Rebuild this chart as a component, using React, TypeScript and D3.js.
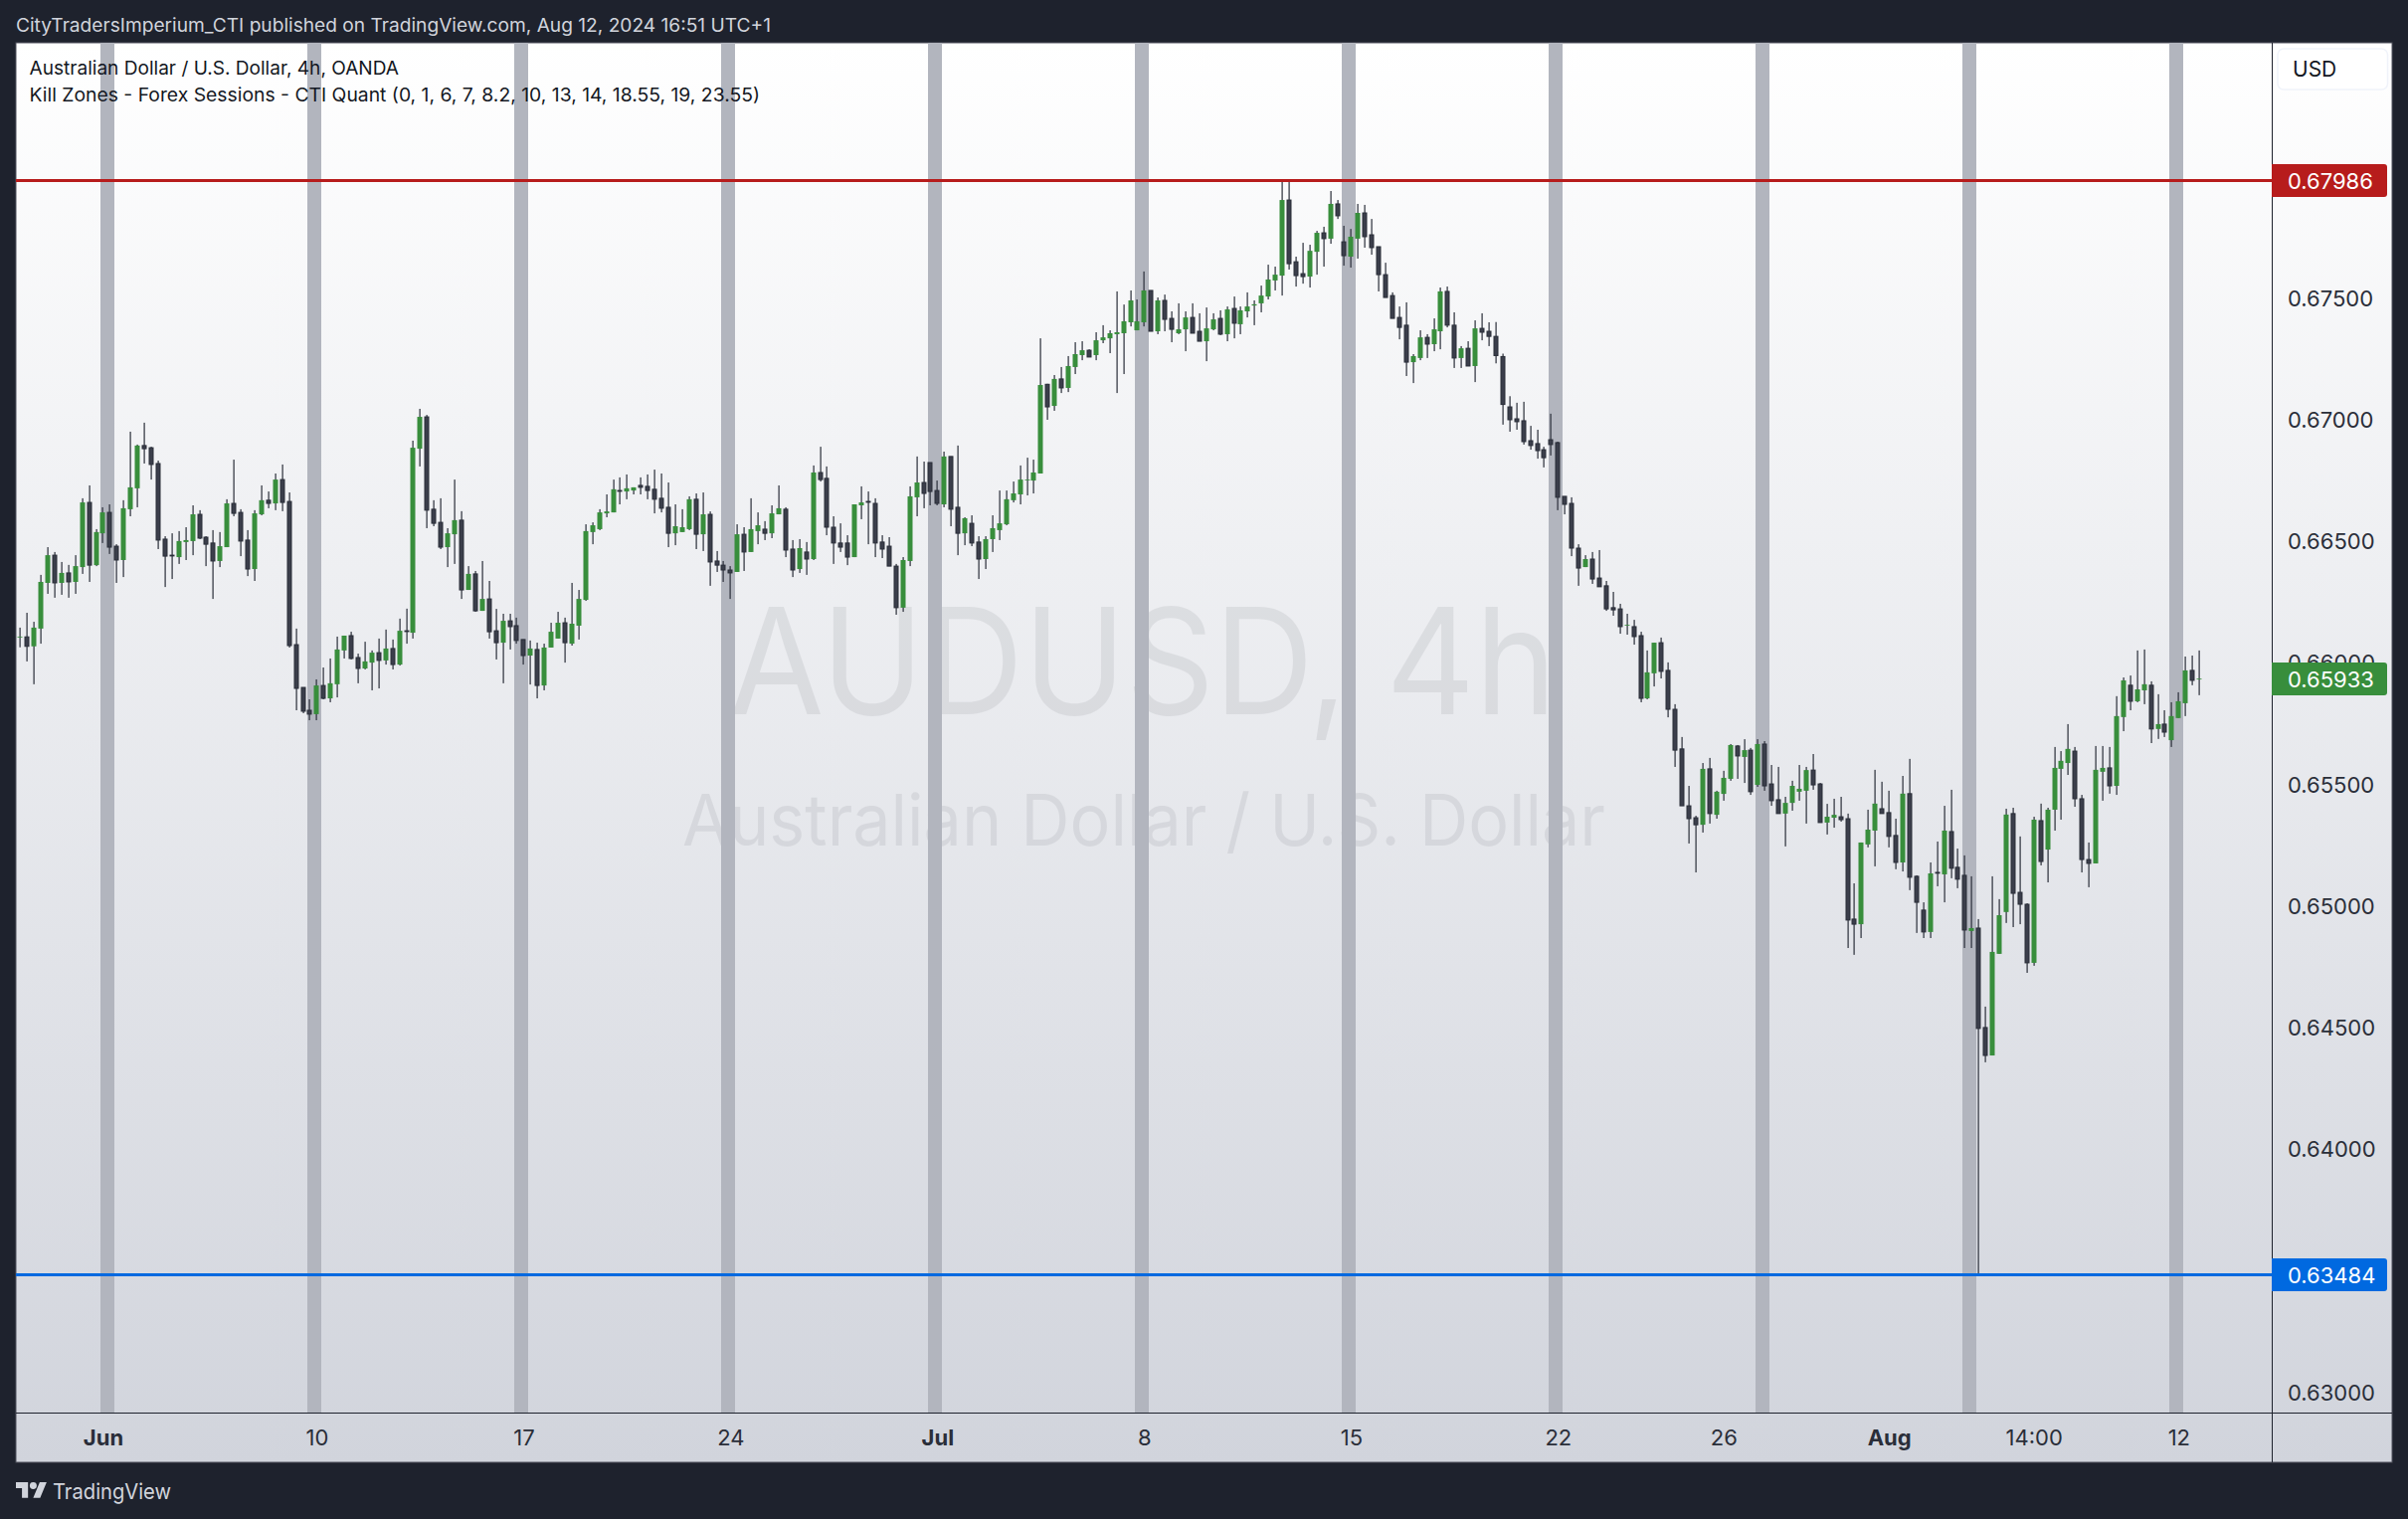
import { useEffect, useRef } from "react"
import * as d3 from "d3"

// bars are [open, high, low, close] in 1e-5 of a dollar
const barsLateMay = [
    [66104, 66143, 66062, 66106], [66105, 66204, 66004, 66066], [66066, 66167, 65910, 66143], [66139, 66360, 66077, 66331],
    [66327, 66474, 66282, 66441], [66441, 66454, 66266, 66327], [66327, 66413, 66278, 66368], [66368, 66401, 66266, 66331],
    [66331, 66441, 66282, 66396], [66392, 66675, 66364, 66658], [66658, 66728, 66331, 66400], [66400, 66548, 66396, 66536],
]
const barsWeekJun3 = [
    [66531, 66638, 66491, 66617], [66617, 66650, 66446, 66474], [66478, 66486, 66327, 66421], [66421, 66667, 66351, 66634],
    [66630, 66949, 66601, 66720], [66716, 66896, 66638, 66892], [66892, 66986, 66818, 66879], [66883, 66887, 66752, 66814],
    [66818, 66830, 66466, 66503], [66507, 66519, 66310, 66437], [66441, 66531, 66343, 66439], [66433, 66540, 66405, 66499],
    [66495, 66556, 66421, 66503], [66499, 66646, 66441, 66609], [66609, 66626, 66507, 66511], [66515, 66519, 66396, 66486],
    [66491, 66544, 66261, 66417], [66417, 66536, 66392, 66478], [66474, 66671, 66474, 66654], [66654, 66834, 66601, 66613],
    [66617, 66630, 66437, 66499], [66503, 66544, 66355, 66384], [66384, 66626, 66335, 66613], [66609, 66728, 66605, 66667],
    [66667, 66703, 66634, 66654], [66654, 66777, 66626, 66752], [66752, 66814, 66622, 66658], [66662, 66699, 66061, 66069],
    [66073, 66139, 65803, 65893], [65897, 65897, 65791, 65799],
]
const barsWeekJun10 = [
    [65803, 65848, 65762, 65787], [65787, 65930, 65762, 65905], [65905, 65979, 65848, 65852], [65852, 66016, 65836, 65914],
    [65910, 66106, 65856, 66053], [66049, 66110, 66016, 66110], [66110, 66126, 66012, 66016], [66020, 66036, 65914, 65975],
    [65975, 66085, 65971, 66004], [65999, 66049, 65885, 66040], [66040, 66098, 65893, 66008], [66008, 66135, 65991, 66057],
    [66057, 66094, 65971, 65991], [65991, 66180, 65987, 66130], [66130, 66221, 66077, 66128], [66122, 66912, 66098, 66883],
    [66879, 67043, 66806, 67010], [67010, 67018, 66552, 66626], [66630, 66667, 66560, 66572], [66576, 66675, 66466, 66474],
    [66474, 66552, 66392, 66531], [66527, 66752, 66405, 66585], [66585, 66622, 66261, 66298], [66298, 66396, 66298, 66364],
    [66364, 66376, 66208, 66212], [66212, 66417, 66212, 66261], [66261, 66335, 66098, 66126], [66130, 66220, 66012, 66081],
    [66081, 66200, 65914, 66171], [66171, 66200, 66053, 66147],
]
const barsWeekJun17 = [
    [66151, 66184, 66077, 66090], [66094, 66094, 65991, 66028], [66028, 66090, 65909, 66057], [66053, 66081, 65852, 65905],
    [65905, 66077, 65885, 66061], [66061, 66163, 66061, 66126], [66098, 66208, 66098, 66163], [66163, 66184, 65999, 66081],
    [66077, 66327, 66069, 66159], [66151, 66298, 66094, 66261], [66257, 66568, 66253, 66540], [66536, 66576, 66486, 66564],
    [66548, 66630, 66544, 66617], [66613, 66691, 66597, 66621], [66617, 66752, 66617, 66712], [66707, 66761, 66650, 66705],
    [66703, 66773, 66671, 66716], [66707, 66720, 66691, 66720], [66728, 66761, 66691, 66720], [66724, 66773, 66671, 66707],
    [66712, 66793, 66613, 66671], [66675, 66777, 66617, 66634], [66638, 66740, 66474, 66531], [66531, 66650, 66482, 66560],
    [66536, 66630, 66536, 66556], [66548, 66683, 66544, 66671], [66671, 66695, 66466, 66527], [66527, 66699, 66458, 66609],
    [66609, 66621, 66315, 66413], [66417, 66458, 66372, 66400],
]
const barsWeekJun24 = [
    [66400, 66417, 66331, 66380], [66380, 66396, 66261, 66368], [66372, 66568, 66372, 66527], [66527, 66556, 66376, 66454],
    [66454, 66675, 66454, 66548], [66540, 66617, 66486, 66564], [66548, 66581, 66503, 66531], [66531, 66646, 66511, 66613],
    [66609, 66728, 66609, 66634], [66630, 66638, 66433, 66462], [66466, 66503, 66351, 66380], [66384, 66507, 66368, 66470],
    [66454, 66495, 66360, 66425], [66425, 66810, 66421, 66781], [66781, 66887, 66744, 66752], [66757, 66806, 66523, 66556],
    [66556, 66601, 66405, 66491], [66491, 66572, 66454, 66474], [66491, 66523, 66400, 66433], [66433, 66650, 66433, 66650],
    [66646, 66724, 66589, 66658], [66662, 66703, 66486, 66660], [66654, 66675, 66433, 66491], [66495, 66523, 66429, 66466],
    [66478, 66515, 66396, 66396], [66396, 66405, 66196, 66225], [66225, 66433, 66208, 66421], [66417, 66724, 66396, 66683],
    [66679, 66847, 66601, 66740], [66740, 66826, 66634, 66695],
]
const barsWeekJul1 = [
    [66822, 66822, 66646, 66703], [66707, 66748, 66646, 66654], [66650, 66867, 66638, 66847], [66847, 66847, 66560, 66630],
    [66638, 66892, 66441, 66531], [66531, 66597, 66482, 66593], [66572, 66605, 66478, 66491], [66495, 66519, 66343, 66425],
    [66425, 66519, 66384, 66507], [66507, 66605, 66454, 66552], [66544, 66707, 66503, 66572], [66568, 66707, 66564, 66671],
    [66667, 66744, 66658, 66695], [66691, 66810, 66650, 66752], [66750, 66842, 66687, 66752], [66748, 66834, 66695, 66781],
    [66777, 67333, 66777, 67141], [67144, 67146, 66998, 67051], [67055, 67182, 67035, 67166], [67166, 67215, 67108, 67129],
    [67129, 67260, 67112, 67219], [67215, 67317, 67186, 67268], [67264, 67321, 67243, 67284], [67284, 67288, 67256, 67256],
    [67264, 67358, 67243, 67325], [67325, 67387, 67313, 67337], [67333, 67366, 67272, 67354], [67350, 67526, 67108, 67358],
    [67354, 67472, 67186, 67403], [67399, 67530, 67382, 67489],
]
const barsWeekJul8 = [
    [67366, 67493, 67366, 67403], [67399, 67608, 67382, 67530], [67530, 67530, 67362, 67362], [67362, 67501, 67350, 67489],
    [67489, 67513, 67362, 67411], [67415, 67444, 67317, 67370], [67354, 67477, 67350, 67370], [67370, 67444, 67280, 67419],
    [67419, 67477, 67354, 67354], [67362, 67436, 67321, 67321], [67321, 67460, 67239, 67374], [67370, 67436, 67366, 67411],
    [67415, 67448, 67346, 67350], [67350, 67464, 67321, 67452], [67456, 67505, 67333, 67395], [67391, 67464, 67350, 67448],
    [67444, 67522, 67419, 67464], [67468, 67489, 67387, 67473], [67477, 67550, 67440, 67509], [67505, 67636, 67493, 67575],
    [67571, 67628, 67530, 67595], [67591, 67984, 67509, 67902], [67902, 67984, 67616, 67640], [67648, 67669, 67546, 67591],
    [67599, 67726, 67558, 67587], [67587, 67718, 67542, 67693], [67689, 67775, 67595, 67767], [67767, 67792, 67628, 67743],
    [67743, 67939, 67722, 67886], [67886, 67902, 67824, 67837],
]
const barsWeekJul15 = [
    [67730, 67796, 67632, 67673], [67669, 67783, 67624, 67751], [67743, 67886, 67661, 67849], [67849, 67882, 67706, 67751],
    [67759, 67824, 67677, 67706], [67710, 67710, 67526, 67595], [67595, 67644, 67501, 67501], [67509, 67522, 67415, 67415],
    [67419, 67464, 67329, 67378], [67387, 67481, 67178, 67235], [67235, 67268, 67149, 67260], [67252, 67366, 67243, 67337],
    [67337, 67350, 67252, 67309], [67309, 67415, 67280, 67370], [67362, 67542, 67288, 67526], [67526, 67546, 67378, 67387],
    [67387, 67440, 67211, 67252], [67252, 67301, 67211, 67292], [67292, 67321, 67219, 67219], [67219, 67407, 67153, 67374],
    [67374, 67436, 67325, 67358], [67362, 67399, 67301, 67341], [67341, 67400, 67230, 67262], [67258, 67270, 66978, 67061],
    [67051, 67095, 66949, 66998], [67002, 67068, 66957, 66990], [66994, 67072, 66896, 66908], [66912, 66973, 66875, 66892],
    [66900, 66957, 66838, 66871], [66875, 66887, 66802, 66842],
]
const barsWeekJul22 = [
    [66916, 67023, 66851, 66896], [66904, 66908, 66626, 66679], [66683, 66683, 66609, 66650], [66654, 66679, 66437, 66470],
    [66470, 66486, 66315, 66388], [66392, 66441, 66392, 66425], [66425, 66454, 66323, 66343], [66347, 66462, 66311, 66311],
    [66315, 66335, 66212, 66220], [66225, 66290, 66192, 66216], [66220, 66241, 66118, 66147], [66153, 66200, 66114, 66155],
    [66147, 66175, 66073, 66106], [66110, 66126, 65836, 65852], [65852, 66049, 65848, 65959], [65955, 66081, 65901, 66081],
    [66081, 66102, 65934, 65963], [65967, 66000, 65774, 65807], [65807, 65828, 65570, 65639], [65644, 65693, 65410, 65410],
    [65410, 65492, 65255, 65357], [65361, 65369, 65136, 65332], [65332, 65586, 65300, 65562], [65562, 65607, 65337, 65378],
    [65373, 65472, 65357, 65468], [65459, 65554, 65431, 65525], [65521, 65664, 65513, 65660], [65656, 65660, 65521, 65615],
    [65611, 65684, 65504, 65639], [65639, 65648, 65455, 65468],
]
const barsWeekJul29 = [
    [65496, 65684, 65488, 65664], [65664, 65676, 65472, 65492], [65500, 65578, 65410, 65431], [65435, 65570, 65378, 65378],
    [65378, 65447, 65243, 65422], [65422, 65513, 65390, 65492], [65468, 65578, 65431, 65480], [65472, 65570, 65337, 65557],
    [65557, 65623, 65476, 65496], [65500, 65504, 65341, 65341], [65341, 65418, 65292, 65365], [65361, 65439, 65320, 65373],
    [65365, 65447, 65345, 65353], [65357, 65378, 64825, 64940], [64944, 65091, 64797, 64923], [64923, 65259, 64866, 65259],
    [65251, 65394, 65239, 65312], [65308, 65558, 65161, 65419], [65398, 65509, 65378, 65378], [65382, 65472, 65239, 65284],
    [65288, 65357, 65149, 65177], [65177, 65533, 65140, 65460], [65460, 65603, 65063, 65116], [65120, 65124, 64887, 65013],
    [64981, 65013, 64866, 64891], [64891, 65177, 64866, 65132], [65136, 65263, 65079, 65134], [65128, 65410, 65013, 65308],
    [65304, 65476, 65112, 65153], [65157, 65234, 65071, 65108],
]
const barsWeekAug5 = [
    [65124, 65206, 64825, 64899], [64895, 65120, 64825, 64907], [64907, 64944, 63484, 64494], [64498, 64584, 64355, 64383],
    [64383, 65120, 64383, 64809], [64801, 65026, 64801, 64960], [64973, 65398, 64928, 65374], [65378, 65402, 64911, 65050],
    [65054, 65284, 64923, 65005], [65005, 65009, 64723, 64764], [64764, 65365, 64752, 65353], [65349, 65419, 65165, 65181],
    [65230, 65402, 65095, 65394], [65394, 65652, 65308, 65566], [65562, 65635, 65353, 65595], [65586, 65746, 65537, 65644],
    [65635, 65652, 65406, 65439], [65439, 65455, 65136, 65189], [65189, 65259, 65075, 65173], [65173, 65656, 65173, 65558],
    [65550, 65656, 65431, 65566], [65566, 65652, 65460, 65492], [65492, 65861, 65455, 65779], [65775, 65938, 65717, 65926],
    [65906, 65946, 65803, 65840], [65840, 66049, 65836, 65889], [65885, 66053, 65828, 65910], [65906, 65922, 65668, 65726],
    [65726, 65869, 65685, 65746], [65746, 65803, 65693, 65713],
]
const barsAug12 = [
    [65680, 65836, 65652, 65779], [65771, 65877, 65771, 65840], [65832, 66024, 65779, 65967], [65967, 66028, 65906, 65926],
    [65932, 66049, 65865, 65933],
]

const priceTicks = [0.63, 0.635, 0.64, 0.645, 0.65, 0.655, 0.66, 0.665, 0.67, 0.675]
const timeTickBars = [12, 43, 73, 103, 133, 163, 193, 223, 247, 271, 292, 313]
const timeTickLabels = ["Jun", "10", "17", "24", "Jul", "8", "15", "22", "26", "Aug", "14:00", "12"]
const boldTimeLabels = ["Jun", "Jul", "Aug"]
const killZoneBars = [12, 42, 72, 102, 132, 162, 192, 222, 252, 282, 312]
const highLine = 0.67986
const lowLine = 0.63484
const lastPrice = 0.65933

const FONT = "Inter, 'Noto Sans', sans-serif"

export default function App() {
    const svgRef = useRef(null)

    useEffect(() => {
        const bars = [
            ...barsLateMay, ...barsWeekJun3, ...barsWeekJun10, ...barsWeekJun17, ...barsWeekJun24, ...barsWeekJul1,
            ...barsWeekJul8, ...barsWeekJul15, ...barsWeekJul22, ...barsWeekJul29, ...barsWeekAug5, ...barsAug12,
        ].map(([o, h, l, c]) => ({ o: o / 1e5, h: h / 1e5, l: l / 1e5, c: c / 1e5 }))

        const frame = { left: 16, right: 2405, top: 43, bottom: 1470 }
        const axisX = 2284
        const axisY = 1420

        const x = d3.scaleLinear().domain([0, bars.length - 1]).range([20.3, 20.3 + 6.933 * (bars.length - 1)])
        const y = d3.scaleLinear().domain([0.63, 0.675]).range([1399, 299.3])

        const svg = d3.select(svgRef.current)
        svg.selectAll("*").remove()

        const grad = svg.append("defs").append("linearGradient").attr("id", "bg").attr("x1", 0).attr("x2", 0).attr("y1", 0).attr("y2", 1)
        grad.append("stop").attr("offset", 0).attr("stop-color", "#ffffff")
        grad.append("stop").attr("offset", 1).attr("stop-color", "#d1d4dc")

        svg.append("rect").attr("width", 2421).attr("height", 1527).attr("fill", "#1e222d")
        svg
            .append("rect")
            .attr("x", frame.left)
            .attr("y", frame.top)
            .attr("width", frame.right - frame.left)
            .attr("height", frame.bottom - frame.top)
            .attr("fill", "url(#bg)")
            .attr("stroke", "#50535e")
            .attr("stroke-width", 1)

        const text = (str, tx, ty, size, color, width = null, weight = 400) => {
            const t = svg
                .append("text")
                .attr("x", tx)
                .attr("y", ty)
                .attr("font-family", FONT)
                .attr("font-size", size)
                .attr("font-weight", weight)
                .attr("fill", color)
                .text(str)
            if (width) t.attr("textLength", width).attr("lengthAdjust", "spacingAndGlyphs")
            return t
        }

        text("CityTradersImperium_CTI published on TradingView.com, Aug 12, 2024 16:51 UTC+1", 16, 32, 18.5, "#d1d4dc", 759)

        // watermark sits under the session bands
        text("AUDUSD, 4h", 733, 718, 148, "#131722", 832).attr("opacity", 0.07)
        text("Australian Dollar / U.S. Dollar", 686, 850, 72, "#131722", 928).attr("opacity", 0.07)

        svg
            .append("g")
            .selectAll("rect")
            .data(killZoneBars)
            .enter()
            .append("rect")
            .attr("x", (d) => Math.round(x(d - 0.5)) + 1)
            .attr("width", 14)
            .attr("y", frame.top)
            .attr("height", axisY - frame.top)
            .attr("fill", "#b2b5be")

        text("Australian Dollar / U.S. Dollar, 4h, OANDA", 29.5, 75, 18.5, "#131722", 371.5)
        text("Kill Zones - Forex Sessions - CTI Quant (0, 1, 6, 7, 8.2, 10, 13, 14, 18.55, 19, 23.55)", 29.5, 102, 18.5, "#131722", 734.5)

        const candles = svg.append("g")
        candles
            .selectAll(".wick")
            .data(bars)
            .enter()
            .append("rect")
            .attr("x", (d, i) => Math.round(x(i)) - 0.5)
            .attr("width", 1.2)
            .attr("y", (d) => y(d.h))
            .attr("height", (d) => y(d.l) - y(d.h))
            .attr("fill", "#2a2e39")
        candles
            .selectAll(".body")
            .data(bars)
            .enter()
            .append("rect")
            .attr("x", (d, i) => Math.round(x(i)) - (d.c >= d.o ? 2.5 : 2))
            .attr("width", (d) => (d.c >= d.o ? 5 : 4))
            .attr("y", (d) => y(Math.max(d.o, d.c)))
            .attr("height", (d) => Math.max(y(Math.min(d.o, d.c)) - y(Math.max(d.o, d.c)), 0.8))
            .attr("fill", (d) => (d.c >= d.o ? "#388e3c" : "#3b3e4b"))
            .attr("stroke", (d) => (d.c >= d.o ? "none" : "#2a2e39"))
            .attr("stroke-width", 1)

        const priceAxis = svg
            .append("g")
            .attr("transform", `translate(${axisX},1)`)
            .call(d3.axisRight(y).tickValues(priceTicks).tickFormat(d3.format(".5f")).tickSize(0).tickPadding(16))
        priceAxis.select(".domain").remove()
        priceAxis.selectAll("text").attr("font-family", FONT).attr("font-size", 22).attr("fill", "#2a2e39")

        const timeAxis = svg
            .append("g")
            .attr("transform", `translate(0,${axisY})`)
            .call(
                d3
                    .axisBottom(x)
                    .tickValues(timeTickBars)
                    .tickFormat((d) => timeTickLabels[timeTickBars.indexOf(d)])
                    .tickSize(0)
                    .tickPadding(17)
            )
        timeAxis.select(".domain").remove()
        timeAxis
            .selectAll("text")
            .attr("font-family", FONT)
            .attr("font-size", 22)
            .attr("fill", "#2a2e39")
            .attr("font-weight", (d) => (boldTimeLabels.includes(timeTickLabels[timeTickBars.indexOf(d)]) ? 700 : 400))

        svg.append("line").attr("x1", axisX + 0.5).attr("x2", axisX + 0.5).attr("y1", frame.top).attr("y2", frame.bottom).attr("stroke", "#1e222d")
        svg.append("line").attr("x1", frame.left).attr("x2", frame.right).attr("y1", axisY + 0.5).attr("y2", axisY + 0.5).attr("stroke", "#1e222d")

        const levels = [
            { price: highLine, color: "#b71c1c", line: true },
            { price: lowLine, color: "#0069e0", line: true },
            { price: lastPrice, color: "#388e3c", line: false },
        ]
        levels.forEach((lv) => {
            const py = Math.round(y(lv.price)) + 0.5
            if (lv.line) {
                svg.append("line").attr("x1", frame.left).attr("x2", axisX).attr("y1", py).attr("y2", py).attr("stroke", lv.color).attr("stroke-width", 3)
            }
            svg
                .append("path")
                .attr("d", `M${axisX},${py - 16.5}h113a3,3 0 0 1 3,3v27a3,3 0 0 1 -3,3h-113z`)
                .attr("fill", lv.color)
            text(d3.format(".5f")(lv.price), 2300, py + 8, 22, "#ffffff")
        })

        svg
            .append("rect")
            .attr("x", 2290)
            .attr("y", 49)
            .attr("width", 110.5)
            .attr("height", 41)
            .attr("rx", 6)
            .attr("fill", "#ffffff")
            .attr("stroke", "#f0f3fa")
            .attr("stroke-width", 1.5)
        text("USD", 2305, 76.5, 21, "#131722")

        // TradingView logo mark
        const logo = svg.append("g").attr("transform", "translate(16,1486.5) scale(0.87)").attr("fill", "#d1d4dc")
        logo.append("path").attr("d", "M14 22H7V11H0V4h14v18ZM28 22h-8l7.5-18h8L28 22Z")
        logo.append("circle").attr("cx", 20).attr("cy", 8).attr("r", 4)
        text("TradingView", 53, 1506.5, 22, "#d1d4dc", 119)
    }, [])

    return (
        <div style={{ position: "absolute", left: 0, top: 0 }}>
            <svg ref={svgRef} width={2421} height={1527} style={{ display: "block" }}></svg>
        </div>
    )
}
